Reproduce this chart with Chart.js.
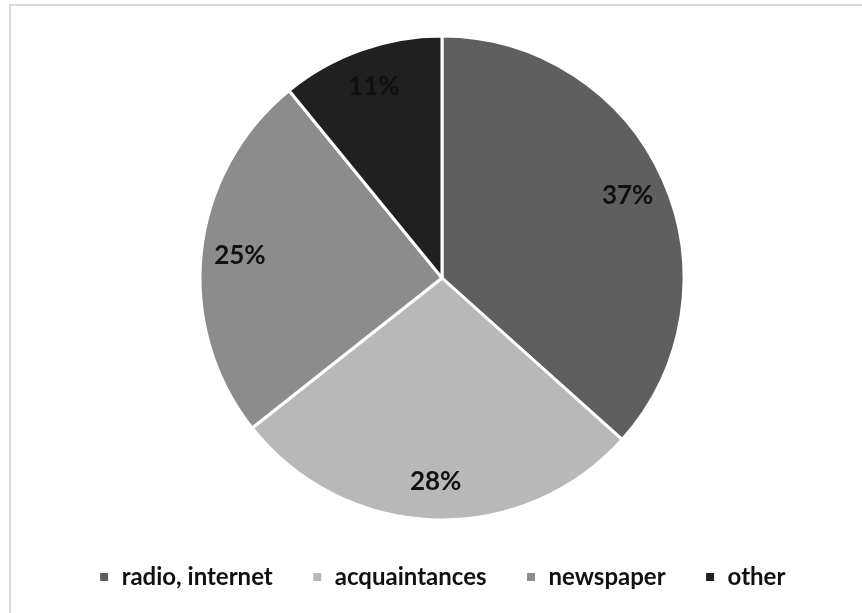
<!DOCTYPE html>
<html>
<head>
<meta charset="utf-8">
<script src="https://cdn.jsdelivr.net/npm/chart.js@4.4.0/dist/chart.umd.min.js"></script>
<style>
    html, body { margin: 0; padding: 0; background: #fff; overflow: hidden; }
    .frame {
        position: absolute; left: 9px; top: 4px; width: 900px; height: 700px;
        border: 2px solid #d9d9d9; box-sizing: border-box;
    }
    .wrap { position: absolute; left: 0; top: 0; width: 862px; height: 613px; }
</style>
</head>
<body>
<div class="frame"></div>
<div class="wrap"><canvas id="sourceChart"></canvas></div>
<script>
// Sources of information, share of respondents (%)
const categories = ['radio, internet', 'acquaintances', 'newspaper', 'other'];
const shares = [37, 28, 25, 11];
const sliceColors = ['#5f5f5f', '#b8b8b8', '#8c8c8c', '#202020'];

// Percent labels drawn inside each slice
const sliceLabels = {
    id: 'sliceLabels',
    afterDatasetsDraw(chart) {
        const ctx = chart.ctx;
        const meta = chart.getDatasetMeta(0);
        ctx.save();
        ctx.font = 'bold 26px Lato, sans-serif';
        ctx.fillStyle = '#111';
        ctx.textAlign = 'center';
        ctx.textBaseline = 'middle';
        meta.data.forEach((arc, i) => {
            const mid = (arc.startAngle + arc.endAngle) / 2;
            const r = arc.outerRadius * 0.84;
            ctx.fillText(shares[i] + '%', arc.x + Math.cos(mid) * r, arc.y + Math.sin(mid) * r);
        });
        ctx.restore();
    }
};

new Chart(document.getElementById('sourceChart').getContext('2d'), {
    type: 'pie',
    data: {
        labels: categories,
        datasets: [{
            data: shares,
            backgroundColor: sliceColors,
            borderColor: '#fff',
            borderWidth: 3,
            radius: 242
        }]
    },
    options: {
        responsive: true,
        maintainAspectRatio: false,
        animation: false,
        layout: { padding: { top: 30, left: 22, right: 0, bottom: 14 } },
        plugins: {
            tooltip: { enabled: false },
            legend: {
                position: 'bottom',
                labels: {
                    color: '#111',
                    boxWidth: 11,
                    boxHeight: 11,
                    padding: 39,
                    font: { family: 'Lato, sans-serif', size: 24, weight: 'bold' }
                }
            }
        }
    },
    plugins: [sliceLabels]
});
</script>
</body>
</html>
